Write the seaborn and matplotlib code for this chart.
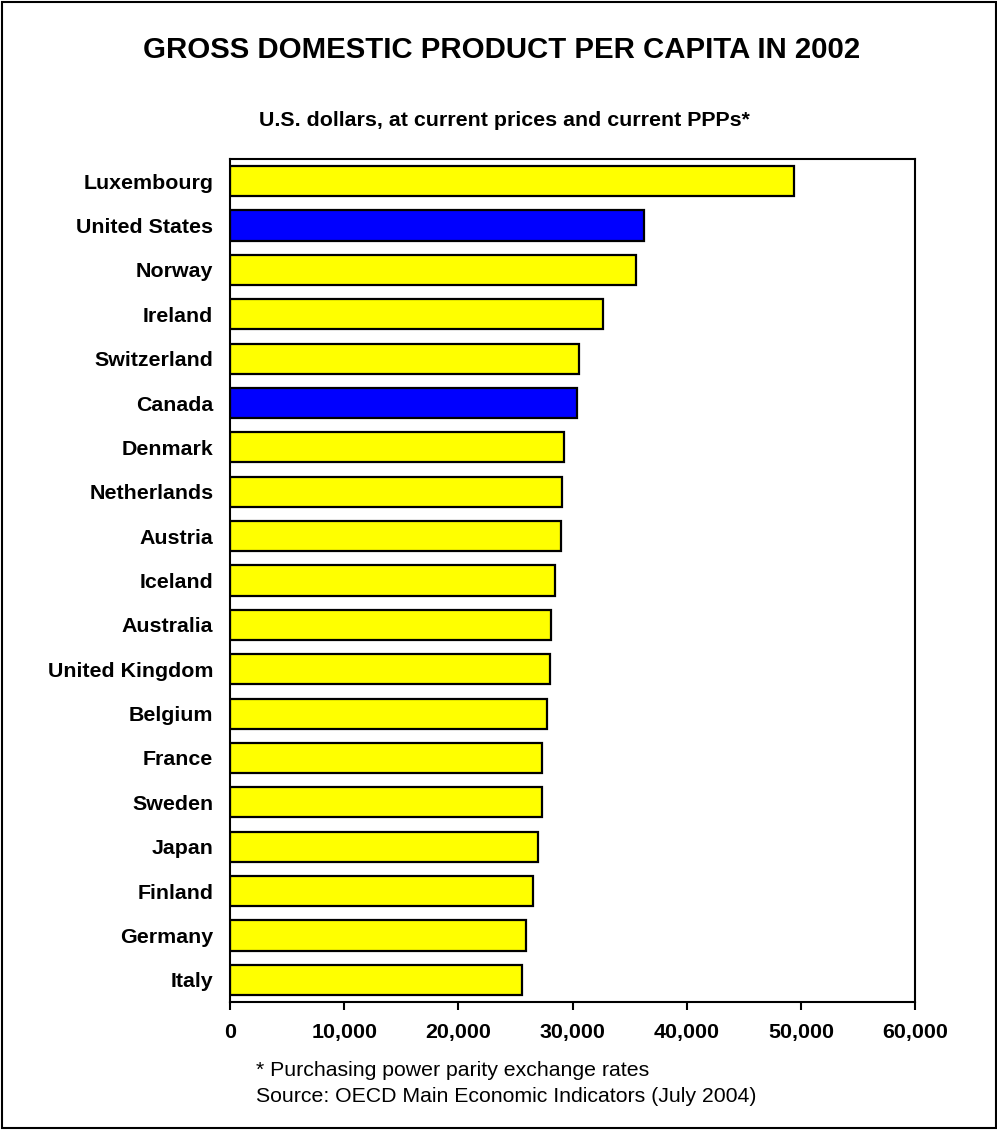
import matplotlib
matplotlib.use("Agg")
import matplotlib.pyplot as plt
import seaborn as sns
import pandas as pd
from matplotlib.patches import Rectangle
from matplotlib.ticker import FuncFormatter

countries = ["Luxembourg", "United States", "Norway", "Ireland", "Switzerland",
             "Canada", "Denmark", "Netherlands", "Austria", "Iceland",
             "Australia", "United Kingdom", "Belgium", "France", "Sweden",
             "Japan", "Finland", "Germany", "Italy"]
gdp = [49430, 36240, 35530, 32640, 30540, 30370, 29220, 29050, 28970, 28440,
       28140, 28060, 27770, 27360, 27360, 26950, 26540, 25930, 25600]
highlight = ["United States", "Canada"]
xticks = [0, 10000, 20000, 30000, 40000, 50000, 60000]

sns.set_theme(style="white")
plt.rcParams['font.family'] = ['Liberation Sans', 'DejaVu Sans']
plt.rcParams['text.color'] = 'black'
plt.rcParams['xtick.color'] = 'black'
plt.rcParams['ytick.color'] = 'black'

df = pd.DataFrame({"country": countries, "gdp": gdp})
palette = {c: ("#0000FF" if c in highlight else "#FFFF00") for c in countries}

fig = plt.figure(figsize=(9.97, 11.3), dpi=100)
ax = fig.add_axes([230/997, 1 - 1002/1130, 685/997, 843/1130])

sns.barplot(data=df, x="gdp", y="country", hue="country", palette=palette,
            legend=False, orient="h", width=0.68, edgecolor="black",
            linewidth=1.6, saturation=1, ax=ax)

ax.set_xlim(0, 60000)
ax.set_ylim(18.5, -0.5)
ax.set_xticks(xticks)
ax.xaxis.set_major_formatter(FuncFormatter(lambda v, p: f"{int(v):,}"))
ax.set_xlabel("")
ax.set_ylabel("")
for s in ax.spines.values():
    s.set_visible(True)
    s.set_color("black")
    s.set_linewidth(1.5)
ax.tick_params(axis="x", direction="out", length=6, width=1.5, color="black",
               bottom=True, pad=9, labelsize=15.4, labelcolor="black")
ax.tick_params(axis="y", length=0, pad=12, labelsize=15.4, labelcolor="black")
for lab in ax.get_xticklabels() + ax.get_yticklabels():
    lab.set_fontweight("bold")

fig.text(502/997, 1 - 50/1130, "GROSS DOMESTIC PRODUCT PER CAPITA IN 2002",
         ha="center", va="center", fontsize=21.2, fontweight="bold", color="black")
fig.text(504/997, 1 - 121/1130, "U.S. dollars, at current prices and current PPPs*",
         ha="center", va="center", fontsize=15.4, fontweight="bold", color="black")
fig.text(256/997, 1 - 1071/1130, "* Purchasing power parity exchange rates",
         ha="left", va="center", fontsize=15.3, color="black")
fig.text(256/997, 1 - 1097/1130, "Source: OECD Main Economic Indicators (July 2004)",
         ha="left", va="center", fontsize=15.3, color="black")

fig.patches.append(Rectangle((2/997, 2/1130), 994/997, 1126/1130,
                             transform=fig.transFigure, fill=False,
                             edgecolor="black", linewidth=1.5))

fig.savefig("out.png", dpi=100)
